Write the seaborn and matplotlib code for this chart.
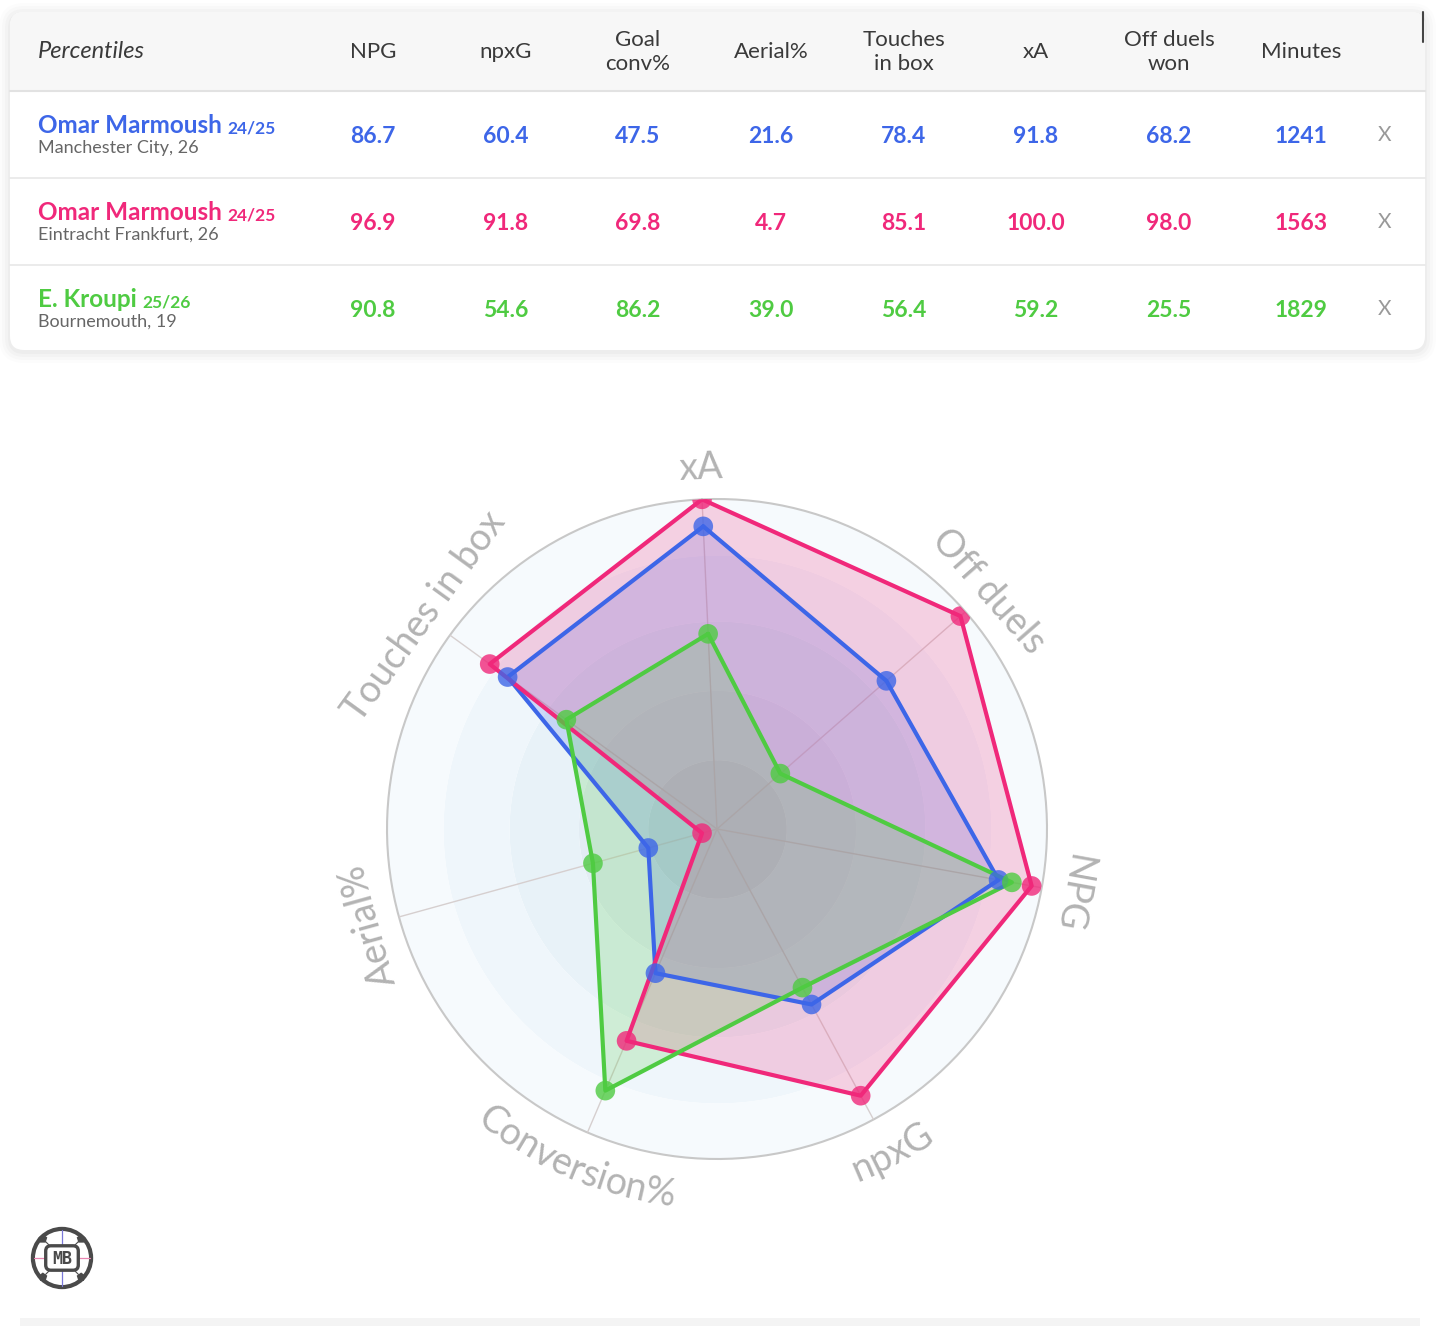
import numpy as np
import pandas as pd
import matplotlib
matplotlib.use("Agg")
import matplotlib.pyplot as plt
import seaborn as sns
from matplotlib.patches import FancyBboxPatch, Rectangle, Circle, RegularPolygon
from matplotlib.font_manager import FontProperties

# table data
columns = ["NPG", "npxG", "Goal\nconv%", "Aerial%", "Touches\nin box", "xA", "Off duels\nwon", "Minutes"]
players = ["Omar Marmoush", "Omar Marmoush", "E. Kroupi"]
seasons = ["24/25", "24/25", "25/26"]
clubs = ["Manchester City, 26", "Eintracht Frankfurt, 26", "Bournemouth, 19"]
colors = ["#3d66e8", "#f0287a", "#4fcb42"]

npg = [86.7, 96.9, 90.8]
npxg = [60.4, 91.8, 54.6]
goal_conv = [47.5, 69.8, 86.2]
aerial = [21.6, 4.7, 39.0]
touches = [78.4, 85.1, 56.4]
xa = [91.8, 100.0, 59.2]
off_duels = [68.2, 98.0, 25.5]
minutes = [1241, 1563, 1829]

# radar axes, clockwise from the top
radar_labels = ["xA", "Off duels", "NPG", "npxG", "Conversion%", "Aerial%", "Touches in box"]

sns.set_style("white")
plt.rcParams["font.family"] = ["Lato", "DejaVu Sans"]

W, H = 1440, 1326
fig = plt.figure(figsize=(W / 100, H / 100), dpi=100)
fig.patch.set_facecolor("white")

bg = fig.add_axes([0, 0, 1, 1])
bg.set_xlim(0, W)
bg.set_ylim(H, 0)
bg.axis("off")

# card with soft shadow
for i, a in enumerate([0.025, 0.02, 0.015, 0.01]):
    p = 2 + i * 3
    bg.add_patch(FancyBboxPatch((10 - p, 14 - p), 1415 + 2 * p, 338 + 2 * p,
                                boxstyle="round,pad=0,rounding_size=%d" % (14 + p),
                                fc="black", ec="none", alpha=a))
bg.add_patch(FancyBboxPatch((10, 12), 1415, 338, boxstyle="round,pad=0,rounding_size=14",
                            fc="white", ec="none"))
bg.add_patch(FancyBboxPatch((10, 12), 1415, 100, boxstyle="round,pad=0,rounding_size=14",
                            fc="#f7f7f7", ec="none"))
bg.add_patch(Rectangle((10, 91), 1415, 30, fc="white", ec="none"))
bg.plot([10, 1425], [91, 91], color="#e2e2e2", lw=1.5)
bg.plot([10, 1425], [178, 178], color="#e8e8e8", lw=1.2)
bg.plot([10, 1425], [265, 265], color="#e8e8e8", lw=1.2)
bg.plot([1423, 1423], [12, 42], color="#444444", lw=1.5)
bg.add_patch(Rectangle((20, 1318), 1400, 8, fc="#f4f4f4", ec="none"))

col_x = [373, 506, 638, 771, 904, 1036, 1169, 1301]
bg.text(38, 52, "Percentiles", style="italic", fontsize=17, color="#3a3a3a",
        ha="left", va="center")
for x, c in zip(col_x, columns):
    bg.text(x, 52, c, fontsize=16, color="#3a3a3a", ha="center", va="center",
            linespacing=1.25)

rows = pd.DataFrame({"player": players, "season": seasons, "club": clubs, "color": colors,
                     "NPG": npg, "npxG": npxg, "Goal conv%": goal_conv, "Aerial%": aerial,
                     "Touches in box": touches, "xA": xa, "Off duels won": off_duels,
                     "Minutes": minutes})
value_cols = ["NPG", "npxG", "Goal conv%", "Aerial%", "Touches in box", "xA",
              "Off duels won", "Minutes"]

name_base = [133, 220, 307]
for i, r in rows.iterrows():
    y0 = name_base[i]
    t = bg.text(38, y0, r["player"], fontsize=17.5, weight="bold", color=r["color"],
                ha="left", va="baseline")
    bg.annotate(r["season"], xy=(1, 0), xycoords=t, xytext=(4, 0.5),
                textcoords="offset points", fontsize=12.5, weight="bold",
                color=r["color"], ha="left", va="bottom")
    bg.text(38, y0 + 20, r["club"], fontsize=13, color="#666666", ha="left",
            va="baseline")
    for x, c in zip(col_x, value_cols):
        v = r[c]
        s = "%d" % v if c == "Minutes" else "%.1f" % v
        bg.text(x, y0 + 10, s, fontsize=16.5, weight="bold", color=r["color"],
                ha="center", va="baseline")
    bg.text(1385, y0 + 8, "X", fontsize=15, color="#999999", ha="center", va="baseline")

# radar
cx, cy, R = 717, 829, 330
OFFSET = 2.6
ax = fig.add_axes([(cx - R) / W, (H - cy - R) / H, 2 * R / W, 2 * R / H],
                  projection="polar")
ax.set_theta_direction(-1)
ax.set_theta_offset(np.pi / 2 + np.deg2rad(OFFSET))
ax.set_ylim(0, 100)
ax.grid(False)
ax.set_xticks([])
ax.set_yticks([])
ax.spines["polar"].set_visible(False)

full = np.linspace(0, 2 * np.pi, 361)
ring_edges = [0, 21, 42, 63, 83, 100]
ring_colors = ["#dbe3ea", "#e2ecf3", "#e8f2f8", "#eff6fb", "#f6fafd"]
for r0, r1, c in zip(ring_edges[:-1], ring_edges[1:], ring_colors):
    ax.fill_between(full, r0, r1, color=c, lw=0, zorder=0)
ax.plot(full, np.full_like(full, 100), color="#c8c8c8", lw=1.5, zorder=1, clip_on=False)

n = len(radar_labels)
theta = np.arange(n) * 2 * np.pi / n
for t in theta:
    ax.plot([t, t], [0, 100], color="#d6cfcf", lw=1, zorder=1)

radar = pd.DataFrame({"xA": xa, "Off duels": off_duels, "NPG": npg, "npxG": npxg,
                      "Conversion%": goal_conv, "Aerial%": aerial,
                      "Touches in box": touches})
for k in range(len(players)):
    vals = radar.loc[k, radar_labels].to_numpy(dtype=float)
    tt = np.append(theta, theta[0])
    vv = np.append(vals, vals[0])
    ax.fill(tt, vv, color=colors[k], alpha=0.2, lw=0, zorder=2 + k)
    ax.plot(tt, vv, color=colors[k], lw=3, zorder=5 + k)
    pts = pd.DataFrame({"theta": theta, "value": vals})
    sns.scatterplot(data=pts, x="theta", y="value", ax=ax, color=colors[k], s=200,
                    alpha=0.8, edgecolor="none", zorder=8 + k, legend=False)
ax.set_xlabel("")
ax.set_ylabel("")
ax.set_ylim(0, 100)

# axis labels: straight on top/sides, bent along the rim at the bottom
label_size = 27
fp = FontProperties(family=["Lato", "DejaVu Sans"], size=label_size)
renderer = fig.canvas.get_renderer()


def text_w(s):
    if not s:
        return 0.0
    return renderer.get_text_width_height_descent(s, fp, ismath=False)[0]


for t, lab in zip(theta, radar_labels):
    ang = (np.rad2deg(t) - OFFSET) % 360
    if 110 < ang < 250:
        r_px = 380.0
        total = text_w(lab)
        for j, ch in enumerate(lab):
            s_mid = text_w(lab[:j]) + text_w(ch) / 2 - total / 2
            a = ang - np.rad2deg(s_mid / r_px)
            ax.text(np.deg2rad(a + OFFSET), r_px / R * 100, ch, fontproperties=fp,
                    color="#b3b3b3", ha="center", va="baseline",
                    rotation=180 - a, rotation_mode="anchor", clip_on=False)
    else:
        ax.text(t, 109.5, lab, fontproperties=fp, color="#b3b3b3", ha="center",
                va="center", rotation=-ang, rotation_mode="anchor", clip_on=False)

# logo
lg = fig.add_axes([30 / W, (H - 1290) / H, 64 / W, 64 / H])
lg.set_xlim(-1.1, 1.1)
lg.set_ylim(-1.1, 1.1)
lg.set_aspect("equal")
lg.axis("off")
lg.add_patch(Circle((0, 0), 1.0, fc="white", ec="#4a4a4a", lw=3))
for a in np.deg2rad([45, 135, 225, 315]):
    lg.add_patch(RegularPolygon((0.93 * np.cos(a), 0.93 * np.sin(a)), 5, radius=0.16,
                                fc="#4a4a4a", ec="none"))
    lg.plot([0.5 * np.cos(a), 0.8 * np.cos(a)], [0.5 * np.sin(a), 0.8 * np.sin(a)],
            color="#4a4a4a", lw=0.8)
lg.plot([0, 0], [-0.95, 0.95], color="#7a78d8", lw=0.9)
lg.plot([-0.95, 0.95], [0, 0], color="#e884b0", lw=0.9)
lg.add_patch(FancyBboxPatch((-0.56, -0.42), 1.12, 0.84,
                            boxstyle="round,pad=0,rounding_size=0.18",
                            fc="white", ec="#4a4a4a", lw=2.4, zorder=5))
lg.text(0, -0.02, "MB", fontsize=12, weight="bold", color="#4a4a4a", ha="center",
        va="center", family="DejaVu Sans Mono", zorder=6)

fig.savefig("out.png", dpi=100, facecolor="white")
